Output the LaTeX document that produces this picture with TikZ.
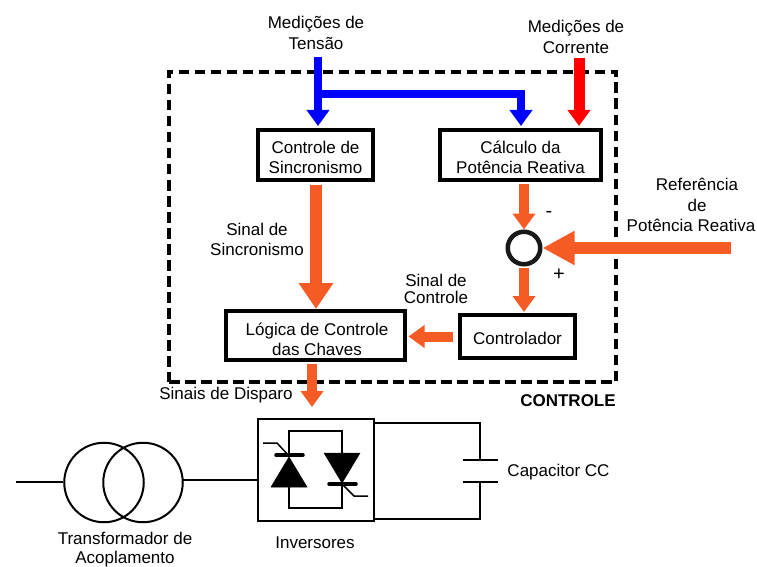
\documentclass[tikz,border=0pt]{standalone}
\usepackage{fontspec}
\setmainfont{Liberation Sans}
\usetikzlibrary{arrows.meta,calc}
\definecolor{myorange}{RGB}{245,91,37}
\newcommand{\topstrut}[1]{\rule{0pt}{#1pt}}
\tikzset{
  lbl/.style={align=center,inner sep=0pt,font=\fontsize{17}{20.5}\selectfont},
  blockbox/.style={draw=black,line width=4pt,fill=white,align=center,inner sep=0pt,font=\fontsize{17}{20}\selectfont},
  smallarrow/.style={line width=#1,-{Triangle[length=16pt,width=22pt]}},
  bigarrow/.style={line width=11.5pt,-{Triangle[length=26pt,width=33pt]}},
  elec/.style={draw=black,line width=2pt},
  dev/.style={fill=black,draw=black,line width=0.5pt},
}
\begin{document}
\begin{tikzpicture}[x=1pt,y=-1pt]
\useasboundingbox (0,0) rectangle (757,567);
\fill[white] (0,0) rectangle (757,567);
% Dashed frame
\node[draw=black,line width=4pt,dash pattern=on 10.5pt off 5.5pt,minimum width=447pt,minimum height=310pt,inner sep=0pt] (frame) at (392.5,227) {};
% Blocks
\node[blockbox,minimum width=115pt,minimum height=50pt] (sync) at (315.5,155) {\topstrut{17}Controle de\\Sincronismo};
\node[blockbox,minimum width=161pt,minimum height=50pt] (calc) at (520.5,155) {\topstrut{17}Cálculo da\\Potência Reativa};
\node[blockbox,minimum width=179pt,minimum height=49pt] (logic) at (315,335.5) {\topstrut{20}\hspace*{4pt}Lógica de Controle\\\hspace*{4pt}das Chaves};
\node[blockbox,minimum width=115pt,minimum height=43pt] (ctrl) at (517.5,336.5) {\topstrut{17}Controlador};
\node[circle,draw=black!90,line width=4.5pt,fill=white,minimum size=32.5pt,inner sep=0pt] (sum) at (524,248) {};
\node[draw=black,line width=2pt,minimum width=116pt,minimum height=102pt,inner sep=0pt] (inv) at (316,470) {};
% Free ends
\coordinate (vtop) at (318,57);
\coordinate (vbranch) at (318,94);
\coordinate (vend) at (521,94);
\coordinate (itop) at (579,58);
\coordinate (qref) at (731,248);
\coordinate (sumup) at (524,184);
\coordinate (syncout) at (316,185);
\coordinate (logicout) at (312,364);
\coordinate (invin) at (312,407);
% Signal arrows
\draw[blue,smallarrow=8.5pt,shorten >=2pt] (vtop) -- (vtop |- sync.north);
\draw[blue,smallarrow=8.5pt,shorten >=2pt] (vbranch) -- (vend) -- (vend |- calc.north);
\draw[red,smallarrow=11pt,shorten >=2pt] (itop) -- (itop |- calc.north);
\draw[myorange,smallarrow=10pt] (sumup) -- (sum.north);
\draw[myorange,line width=11.5pt,-{Triangle[length=32pt,width=32pt]}] (qref) -- (sum.east);
\draw[myorange,smallarrow=10pt,shorten <=1pt,shorten >=1pt] (sum.south) -- (sum.south |- ctrl.north);
\draw[myorange,smallarrow=10pt,shorten <=5pt,shorten >=2pt] (ctrl.west) -- (logic.east |- ctrl.west);
\draw[myorange,bigarrow] (syncout) -- (syncout |- logic.north);
\draw[myorange,smallarrow=10pt] (logicout) -- (invin);
% Transformer
\node[circle,draw=black,line width=2pt,minimum size=79.5pt,inner sep=0pt] (t1) at (104,482.5) {};
\node[circle,draw=black,line width=2pt,minimum size=79.5pt,inner sep=0pt] (t2) at (143,482.5) {};
\coordinate (tleft) at (16,482);
\coordinate (tright) at (183,480);
\draw[elec] (tleft) -- (t1.west |- tleft);
\draw[elec] (tright) -- (inv.west |- tright);
% Capacitor
\coordinate (capt) at (480,460);
\coordinate (capb) at (480,482);
\coordinate (capw) at (17.5pt,0);
\draw[elec] (inv.east |- 0,423) -- (480,423) -- (capt);
\draw[elec] (inv.east |- 0,519) -- (480,519) -- (capb);
\draw[elec] ($(capt)-(capw)$) -- ($(capt)+(capw)$);
\draw[elec] ($(capb)-(capw)$) -- ($(capb)+(capw)$);
% Antiparallel thyristors
\draw[elec] (289,487) -- (289,508) -- (342,508) -- (342,484);
\draw[elec] (289,455) -- (289,431) -- (342,431) -- (342,453);
\fill[dev] (289,457) -- (307,487) -- (271,487) -- cycle;
\fill[dev] (342,483) -- (360,453) -- (324,453) -- cycle;
\draw[line width=3.5pt,line cap=round] (276,455) -- (303,455);
\draw[line width=3.5pt,line cap=round] (329,484) -- (356,484);
\draw[elec,line width=1.5pt] (263,443) -- (277,443) -- (289,456);
\draw[elec,line width=1.5pt] (342,484) -- (354,496) -- (368,496);
% Labels
\node[lbl] (lv) at (316,33) {Medições de\\Tensão};
\node[lbl] (li) at (576,37) {Medições de\\Corrente};
\node[lbl] (lq) at (691,205) {\hspace*{12pt}Referência\\\hspace*{12pt}de\\Potência Reativa};
\node[lbl] (ls) at (257,239.5) {Sinal de\\Sincronismo};
\node[lbl,font=\fontsize{17}{17}\selectfont] (lc) at (436,288.5) {Sinal de\\Controle};
\node[lbl] (ld) at (226,395) {Sinais de Disparo};
\node[lbl,font=\fontsize{17}{20}\bfseries\selectfont] (lf) at (568,401) {CONTROLE};
\node[lbl] (lcap) at (558.5,472) {Capacitor CC};
\node[lbl,font=\fontsize{17}{18.5}\selectfont] (lt) at (125,549.5) {Transformador de\\Acoplamento};
\node[lbl] (linv) at (315,543) {Inversores};
\node[lbl,font=\fontsize{20}{20}\selectfont] (lm) at (549,214) {-};
\node[lbl,font=\fontsize{20}{20}\selectfont] (lp) at (559,275) {+};
\end{tikzpicture}
\end{document}
